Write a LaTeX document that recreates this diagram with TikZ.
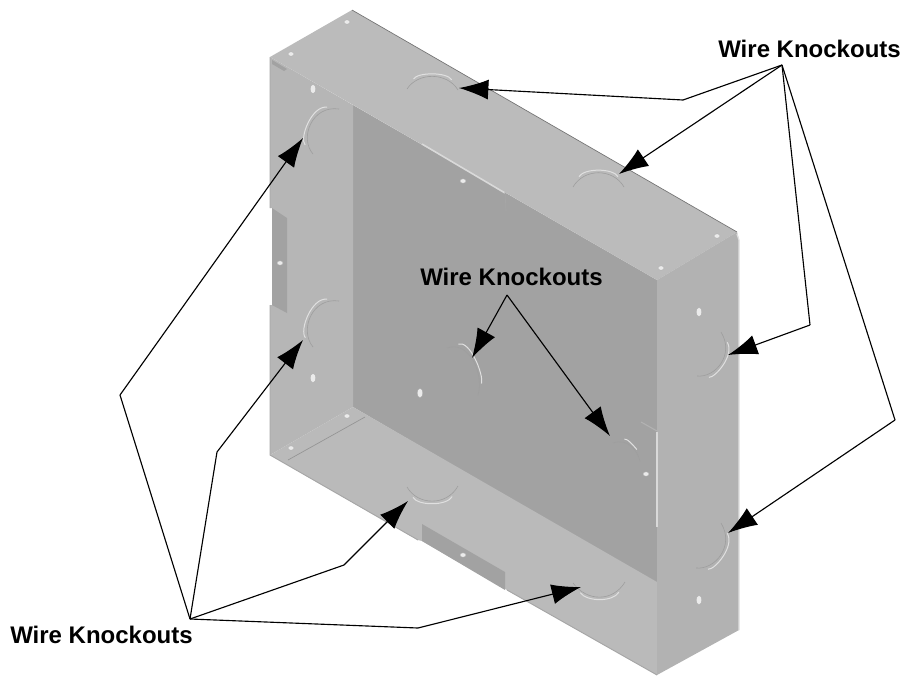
\documentclass[tikz,border=0pt]{standalone}
\usepackage{fontspec}
\setmainfont{Liberation Sans}
\usetikzlibrary{arrows.meta}
\definecolor{topface}{gray}{0.735}
\definecolor{backface}{gray}{0.635}
\definecolor{leftface}{gray}{0.715}
\definecolor{rightface}{gray}{0.70}
\definecolor{lowface}{gray}{0.73}
\tikzstyle{wirelabel}=[font=\bfseries\fontsize{18pt}{21pt}\selectfont,text=black,inner sep=0pt,anchor=base west]
\tikzstyle{leader} = [draw,black,line width=0.85pt]
\tikzstyle{pointer} = [draw,black,line width=0.85pt,-{Latex[length=22pt,width=15pt]}]
\tikzstyle{knockdark} = [draw=black!38,line width=0.45pt]
\tikzstyle{knocklight} = [draw=white!88!black,line width=0.75pt,shorten <=9pt,shorten >=9pt]
\tikzstyle{hole} = [fill=white!92!black,draw=black!35,line width=0.2pt]
\tikzstyle{slot} = [draw=white!85!black,line width=1.2pt]
\begin{document}
\begin{tikzpicture}[x=0.75pt,y=-0.75pt]
    \useasboundingbox (0,0) rectangle (905,675);
    % First we draw the faces of the box
    \fill[backface] (353,105) -- (657,280) -- (657,584) -- (353,407) -- cycle;
    \fill[leftface] (270,57) -- (353,105) -- (353,407) -- (270,455) -- (270,305) -- (272,305) -- (272,208) -- (270,208) -- cycle;
    \fill[lowface] (270,455) -- (353,407) -- (657,582) -- (657,675) -- (507,590) -- (422,541) -- (418,540) -- cycle;
    \fill[topface] (270,57) -- (352,10) -- (737,232) -- (657,280) -- cycle;
    \fill[rightface] (657,280) -- (737,232) -- (739,240) -- (739,630) -- (657,675) -- cycle;
    % Tabs, edges and slots
    \fill[backface] (272,208) -- (287,218) -- (287,313) -- (272,305) -- cycle;
    \fill[backface] (422,524) -- (505,572) -- (505,590) -- (422,541) -- cycle;
    \fill[backface] (272,60) -- (287,69) -- (284,71) -- (272,64) -- cycle;
    \draw[black!55,line width=0.5pt] (352,10) -- (737,232);
    \draw[black!35,line width=0.7pt] (270,57) -- (270,208) (270,305) -- (270,455) -- (418,540) (507,590) -- (657,675);
    \draw[black!42,line width=0.5pt] (288,460) -- (365,417);
    \draw[white!88!black,line width=0.9pt] (737,234) -- (739,240) -- (739,630);
    \draw[slot] (422,144) -- (505,193);
    \draw[slot] (657,432) -- (657,527);
    \draw[white!70!black,line width=0.8pt] (641,422) -- (657,431);
    \draw[black!35,line width=0.5pt] (505,192) -- (506,211);
    % Knockouts
    \foreach \pa/\pb/\pc/\pd in {{(407,89)/(418,72)/(447,72)/(458,90)}, {(573,187)/(584,168)/(613,168)/(624,187)},
        {(339,109)/(312,105)/(299,138)/(313,154)}, {(339,301)/(312,297)/(299,330)/(313,347)},
        {(447,348)/(470,340)/(484,375)/(478,395)}, {(721,332)/(735,355)/(715,378)/(697,376)},
        {(721,523)/(735,546)/(715,570)/(696,568)}, {(613,443)/(628,438)/(637,450)/(640,461)},
        {(407,487)/(418,506)/(447,506)/(458,486)}, {(573,583)/(587,602)/(613,602)/(625,582)}}
    {
        \path[knockdark] \pa .. controls \pb and \pc .. \pd;
        \path[knocklight] \pa .. controls \pb and \pc .. \pd;
    }
    % Holes
    \foreach \pos in {(347,22),(291,54),(717,236),(661,268),(463,181),(646,474),(347,416),(291,448),(463,555),(280,263)}
        \path[hole] \pos circle[x radius=3,y radius=2.2];
    \foreach \pos in {(313,89),(313,378),(420,393),(699,312),(699,600)}
        \path[hole] \pos circle[x radius=2.8,y radius=4.5];
    % Then the labels and the points of the leaders
    \node[wirelabel] (upper) at (718,57) {Wire Knockouts};
    \node[wirelabel] (middle) at (420,285) {Wire Knockouts};
    \node[wirelabel] (lower) at (10,643) {Wire Knockouts};
    \foreach \pos/\name in {{(782,65)/hubU}, {(683,100)/kneeA}, {(810,325)/kneeB}, {(895,420)/kneeC},
        {(459,88)/tipA}, {(619,174)/tipB}, {(728,355)/tipC}, {(728,533)/tipD},
        {(507,295)/hubM}, {(472,358)/tipE}, {(610,436)/tipF},
        {(190,619)/hubL}, {(120,395)/kneeD}, {(217,452)/kneeE}, {(344,565)/kneeF}, {(418,628)/kneeG},
        {(303,138)/tipG}, {(303,340)/tipH}, {(408,501)/tipI}, {(581,587)/tipJ}}
        \path \pos coordinate (\name);
    % Connect the labels with the knockouts
    \foreach \source/\dest in {hubU/kneeA,hubU/kneeB,hubU/kneeC,hubL/kneeD,hubL/kneeE,hubL/kneeF,hubL/kneeG}
        \path[leader] (\source) -- (\dest);
    \foreach \source/\dest in {kneeA/tipA,hubU/tipB,kneeB/tipC,kneeC/tipD,hubM/tipE,hubM/tipF,kneeD/tipG,kneeE/tipH,kneeF/tipI,kneeG/tipJ}
        \path[pointer] (\source) -- (\dest);
\end{tikzpicture}
\end{document}
